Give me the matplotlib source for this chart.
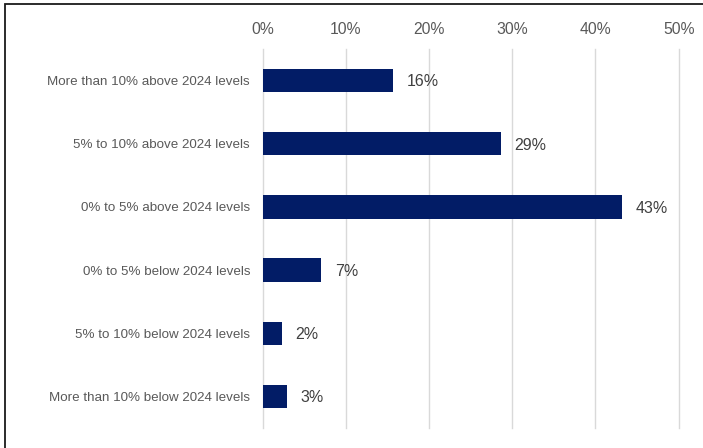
import matplotlib.pyplot as plt
from matplotlib.patches import Rectangle

plt.rcParams['font.family'] = ['Liberation Sans', 'DejaVu Sans']

categories = [
    "More than 10% above 2024 levels",
    "5% to 10% above 2024 levels",
    "0% to 5% above 2024 levels",
    "0% to 5% below 2024 levels",
    "5% to 10% below 2024 levels",
    "More than 10% below 2024 levels",
]
values = [15.7, 28.6, 43.2, 7.05, 2.3, 2.9]
value_labels = ["16%", "29%", "43%", "7%", "2%", "3%"]
x_ticks = [0, 10, 20, 30, 40, 50]

fig = plt.figure(figsize=(7.03, 4.48), dpi=100)
ax = fig.add_axes([0.3734, 0.0446, 0.592, 0.846])

y = list(range(len(categories)))
ax.barh(y, values, height=0.37, color="#021c66", zorder=3)

for yi, v, lab in zip(y, values, value_labels):
    ax.annotate(lab, (v, yi), xytext=(9.8, -1), textcoords="offset points",
                va="center", ha="left", fontsize=11.5, color="#404040")

ax.set_xlim(0, 50)
ax.set_ylim(len(categories) - 0.5, -0.5)
ax.set_xticks(x_ticks)
ax.set_xticklabels([f"{t}%" for t in x_ticks], fontsize=11.3, color="#595959")
ax.xaxis.tick_top()
ax.tick_params(axis="x", length=0, pad=8.5)
ax.set_yticks(y)
ax.set_yticklabels(categories, fontsize=9.6, color="#595959")
ax.tick_params(axis="y", length=0, pad=9)

ax.grid(axis="x", color="#d9d9d9", linewidth=1.0, zorder=0)
for line in ax.get_xgridlines():
    line.set_clip_on(False)
for s in ["top", "right", "bottom", "left"]:
    ax.spines[s].set_visible(False)

# frame around the chart (only top and left edges visible in the crop)
fig.patches.append(Rectangle((4.5 / 703, -0.1), 1.2, 1.1 - 4.5 / 448,
                             transform=fig.transFigure, fill=False,
                             edgecolor="#1a1a1a", linewidth=1.3))

fig.savefig("out.png", dpi=100)
